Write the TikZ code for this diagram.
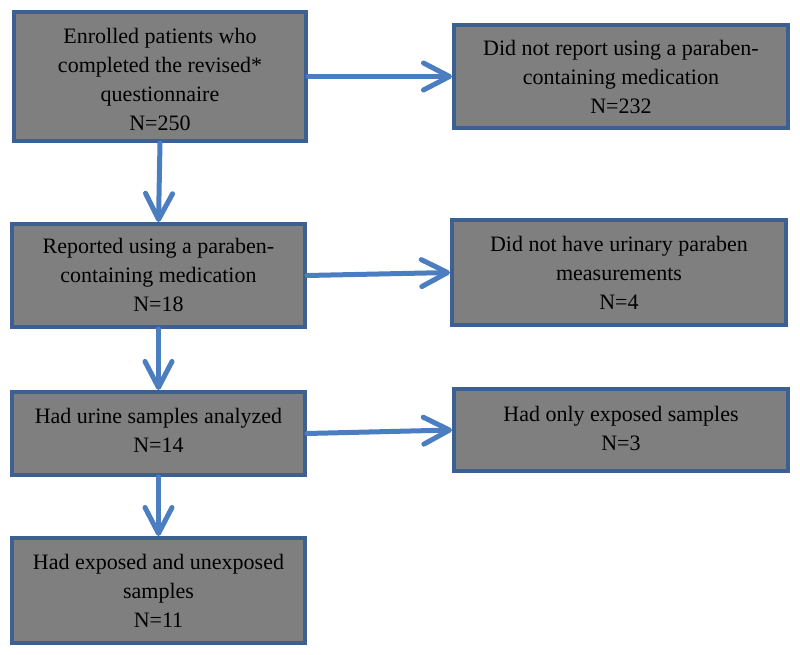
\documentclass[tikz,border=0pt]{standalone}
\usepackage{fontspec}
\setmainfont{Liberation Serif}
\usetikzlibrary{arrows.meta}
\definecolor{boxblue}{RGB}{59,96,145}
\definecolor{arrowblue}{RGB}{74,126,193}
\definecolor{boxgray}{RGB}{127,127,127}
\begin{document}
\begin{tikzpicture}[x=1pt,y=-1pt,
  flowbox/.style={draw=boxblue, line width=4pt, fill=boxgray, inner sep=0pt},
  boxtext/.style={align=center, font=\fontsize{22}{29}\selectfont,
    inner sep=0pt, text=black},
  conn/.style={draw=arrowblue, line width=5pt, line cap=round,
    -{Straight Barb[length=26pt,width=27pt,round]}}]
\useasboundingbox (0,0) rectangle (800,655);
% boxes
\node[flowbox, minimum width=292pt, minimum height=129pt] (A) at (160,76.5) {};
\node[flowbox, minimum width=334pt, minimum height=103pt] (B) at (621,76.5) {};
\node[flowbox, minimum width=293pt, minimum height=103pt] (C) at (158.5,275.5) {};
\node[flowbox, minimum width=334pt, minimum height=105pt] (D) at (619,272.5) {};
\node[flowbox, minimum width=293pt, minimum height=83pt] (E) at (158.5,433.5) {};
\node[flowbox, minimum width=334pt, minimum height=82pt] (F) at (621,430) {};
\node[flowbox, minimum width=293pt, minimum height=105pt] (G) at (158.5,590.5) {};
% texts
\node[boxtext] (At) at (160,79.5)
  {Enrolled patients who\\completed the revised*\\questionnaire\\N=250};
\node[boxtext] (Bt) at (621,77)
  {Did not report using a paraben-\\containing medication\\N=232};
\node[boxtext] (Ct) at (158.5,274.5)
  {Reported using a paraben-\\containing medication\\N=18};
\node[boxtext] (Dt) at (619,273)
  {Did not have urinary paraben\\measurements\\N=4};
\node[boxtext] (Et) at (158.5,430.5)
  {Had urine samples analyzed\\N=14};
\node[boxtext] (Ft) at (621,428)
  {Had only exposed samples\\N=3};
\node[boxtext] (Gt) at (158.5,591)
  {Had exposed and unexposed\\samples\\N=11};
% connectors
\draw[conn] (A.east) -- (B.west);
\draw[conn] (A.south) -- (C.north);
\draw[conn] (C.east) -- (D.west);
\draw[conn] (C.south) -- (E.north);
\draw[conn] (E.east) -- (F.west);
\draw[conn] (E.south) -- (G.north);
\end{tikzpicture}
\end{document}
